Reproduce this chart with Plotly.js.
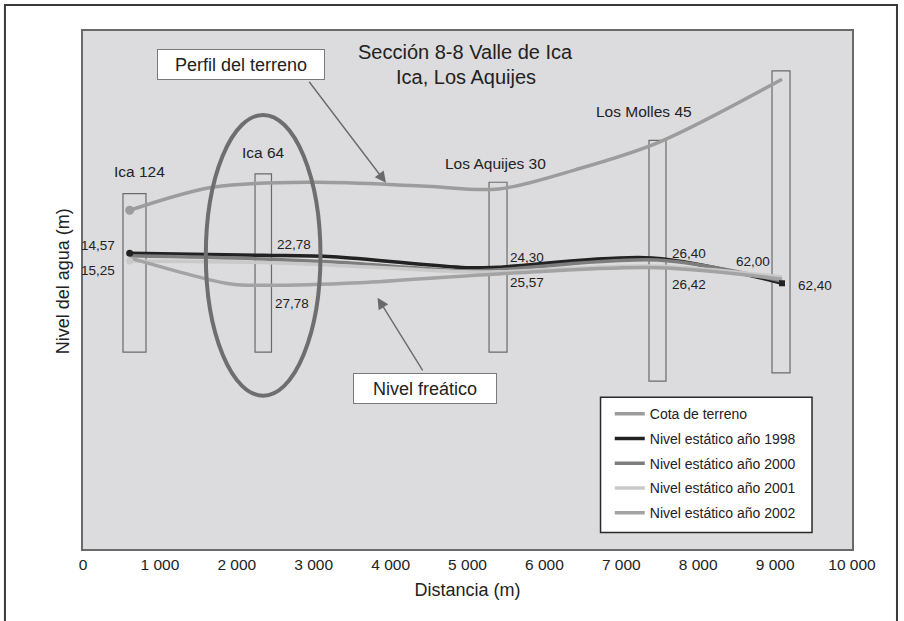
<!DOCTYPE html>
<html>
<head>
<meta charset="utf-8">
<script src="https://cdn.plot.ly/plotly-3.0.1.min.js"></script>
<style>html,body{margin:0;padding:0;background:#fff;}#chart{width:904px;height:621px;}</style>
</head>
<body>
<div id="chart"></div>
<script>
// ---- data (distance in m, vertical in arbitrary chart units; no y scale shown) ----
const seriesNames = ["Cota de terreno", "Nivel estático año 1998", "Nivel estático año 2000", "Nivel estático año 2001", "Nivel estático año 2002"];

const terrenoX = [607, 1700, 3000, 4400, 5400, 6400, 7470, 9090];
const terrenoY = [65.4, 69.9, 70.8, 70.1, 69.5, 73.2, 78.4, 90.7];

const n1998X = [607, 2340, 3250, 4980, 5400, 7400, 9090];
const n1998Y = [57.1, 56.7, 56.4, 54.3, 54.4, 56.2, 51.3];

const n2000X = [607, 2340, 3250, 4980, 5400, 7470, 9090];
const n2000Y = [56.6, 56.0, 55.4, 53.7, 53.9, 55.8, 51.7];

const n2001X = [607, 2340, 3250, 4980, 5400, 7470, 9090];
const n2001Y = [55.6, 55.3, 54.8, 53.5, 53.5, 54.6, 52.5];

const n2002X = [607, 1900, 2340, 3600, 5400, 7470, 9090];
const n2002Y = [56.2, 51.2, 50.9, 51.4, 53.1, 54.3, 52.1];

// wells (pozos)
const wellNames = ["Ica 124", "Ica 64", "Los Aquijes 30", "Los Molles 45", ""];
const wellLeft = [520, 2237, 5280, 7360, 8960];
const wellRight = [819, 2451, 5514, 7581, 9194];
const wellTop = [68.6, 72.4, 70.8, 78.9, 92.3];
const wellBottom = [38.0, 38.0, 38.0, 32.4, 34.0];
const wellLabelX = [737, 2341, 5358, 7295];
const wellLabelY = [72.8, 76.6, 74.4, 84.4];

// depth labels
const depthUpper = ["14,57", "22,78", "24,30", "26,40", "62,00"];
const depthUpperX = [438, 2497, 5527, 7633, 8466];
const depthUpperY = [58.5, 58.7, 56.2, 57.0, 55.5];
const depthLower = ["15,25", "27,78", "25,57", "26,42", "62,40"];
const depthLowerX = [438, 2471, 5527, 7633, 9272];
const depthLowerY = [53.7, 47.3, 51.4, 51.0, 50.8];

const xTicks = [0, 1000, 2000, 3000, 4000, 5000, 6000, 7000, 8000, 9000, 10000];

// ---- drawing ----
const REG = "Liberation Sans, Arial, Helvetica, sans-serif";
const colors = ["#9c9c9c", "#222222", "#7d7d7d", "#c9c9c9", "#a3a3a3"];
const xs = [terrenoX, n1998X, n2000X, n2001X, n2002X];
const ys = [terrenoY, n1998Y, n2000Y, n2001Y, n2002Y];
const startMarker = [9, 7, 0, 7, 0];

const traces = seriesNames.map((nm, i) => ({
  type: "scatter",
  mode: "lines",
  name: nm,
  legendgroup: "g" + i,
  x: xs[i], y: ys[i],
  line: {color: colors[i], width: 3.5, shape: "spline", smoothing: 0.9}
}));
seriesNames.forEach((nm, i) => {
  if (startMarker[i] > 0) {
    traces.push({type: "scatter", mode: "markers", showlegend: false, hoverinfo: "skip",
      x: [xs[i][0]], y: [ys[i][0]], marker: {color: colors[i], size: startMarker[i]}});
  }
});
traces.push({type: "scatter", mode: "markers", showlegend: false, hoverinfo: "skip",
  x: [n1998X[n1998X.length - 1]], y: [n1998Y[n1998Y.length - 1]],
  marker: {color: colors[1], size: 6, symbol: "square"}});

const shapes = [];
for (let i = 0; i < wellLeft.length; i++) {
  shapes.push({type: "rect", xref: "x", yref: "y", x0: wellLeft[i], x1: wellRight[i], y0: wellBottom[i], y1: wellTop[i],
    line: {color: "#6a6a6a", width: 1.2}, fillcolor: "rgba(0,0,0,0)", layer: "below"});
}
shapes.push({type: "circle", xref: "x", yref: "y", x0: 1597, x1: 3088, y0: 29.6, y1: 83.8,
  line: {color: "#6e6e6e", width: 4}, fillcolor: "rgba(0,0,0,0)"});
shapes.push({type: "rect", xref: "paper", yref: "paper", x0: 0.673, x1: 0.948, y0: 0.032, y1: 0.293,
  line: {color: "#2a2a2a", width: 1.5}, fillcolor: "#ffffff", layer: "below"});
shapes.push({type: "rect", xref: "paper", yref: "paper", x0: -0.1015, x1: 1.0585, y0: -0.16, y1: 1.050,
  line: {color: "#3a3a3a", width: 2}, fillcolor: "rgba(0,0,0,0)"});

const annotations = [];
annotations.push({xref: "x", yref: "y", x: 4980, y: 96.0, text: "Sección 8-8 Valle de Ica", showarrow: false,
  font: {family: REG, size: 20, color: "#222"}});
annotations.push({xref: "x", yref: "y", x: 4980, y: 91.2, text: "Ica, Los Aquijes", showarrow: false,
  font: {family: REG, size: 20, color: "#222"}});
annotations.push({xref: "paper", yref: "paper", x: -0.026, y: 0.517, xanchor: "center", yanchor: "middle",
  text: "Nivel del agua (m)", showarrow: false, textangle: -90, font: {family: REG, size: 18, color: "#222"}});
for (let i = 0; i < wellLabelX.length; i++) {
  annotations.push({xref: "x", yref: "y", x: wellLabelX[i], y: wellLabelY[i], text: wellNames[i], showarrow: false,
    font: {family: REG, size: 15.5, color: "#222"}});
}
for (let i = 0; i < depthUpper.length; i++) {
  annotations.push({xref: "x", yref: "y", x: depthUpperX[i], y: depthUpperY[i], text: depthUpper[i], showarrow: false,
    xanchor: i === 0 ? "right" : "left", font: {family: REG, size: 13.5, color: "#222"}});
  annotations.push({xref: "x", yref: "y", x: depthLowerX[i], y: depthLowerY[i], text: depthLower[i], showarrow: false,
    xanchor: i === 0 ? "right" : "left", font: {family: REG, size: 13.5, color: "#222"}});
}
annotations.push({xref: "x", yref: "y", axref: "x", ayref: "y", x: 3940, y: 70.7, ax: 2926, ay: 90.5, text: "",
  showarrow: true, arrowhead: 2, arrowsize: 1.6, arrowwidth: 1.4, arrowcolor: "#6a6a6a"});
annotations.push({xref: "x", yref: "y", axref: "x", ayref: "y", x: 3830, y: 48.5, ax: 4429, ay: 34.2, text: "",
  showarrow: true, arrowhead: 2, arrowsize: 1.6, arrowwidth: 1.4, arrowcolor: "#6a6a6a"});
annotations.push({xref: "x", yref: "y", x: 2055, y: 93.5, text: "Perfil del terreno", showarrow: false,
  bgcolor: "#ffffff", bordercolor: "#7a7a7a", borderwidth: 1, width: 164, height: 27, borderpad: 1,
  font: {family: REG, size: 18, color: "#222"}});
annotations.push({xref: "x", yref: "y", x: 4445, y: 31.0, text: "Nivel freático", showarrow: false,
  bgcolor: "#ffffff", bordercolor: "#7a7a7a", borderwidth: 1, width: 140, height: 27, borderpad: 1,
  font: {family: REG, size: 18, color: "#222"}});

const layout = {
  width: 904, height: 621,
  margin: {l: 83, r: 52, t: 31, b: 72, pad: 0},
  paper_bgcolor: "#ffffff",
  plot_bgcolor: "#dcdcde",
  separators: ", ",
  showlegend: true,
  legend: {x: 0.685, y: 0.291, xanchor: "left", yanchor: "top", bgcolor: "rgba(0,0,0,0)", borderwidth: 0,
    tracegroupgap: 3.5, font: {family: REG, size: 14, color: "#222"}, itemwidth: 30},
  xaxis: {range: [0, 10000], tickvals: xTicks, tickformat: ",d", showgrid: false, zeroline: false,
    showline: true, mirror: true, linecolor: "#6a6a6a", linewidth: 2, ticks: "",
    tickfont: {family: REG, size: 15.5, color: "#222"},
    title: {text: "Distancia (m)", font: {family: REG, size: 18, color: "#222"}, standoff: 12}},
  yaxis: {range: [0, 100], showticklabels: false, showgrid: false, zeroline: false,
    showline: true, mirror: true, linecolor: "#6a6a6a", linewidth: 2, ticks: ""},
  shapes: shapes,
  annotations: annotations
};

Plotly.newPlot("chart", traces, layout, {displayModeBar: false, staticPlot: true});
</script>
</body>
</html>
